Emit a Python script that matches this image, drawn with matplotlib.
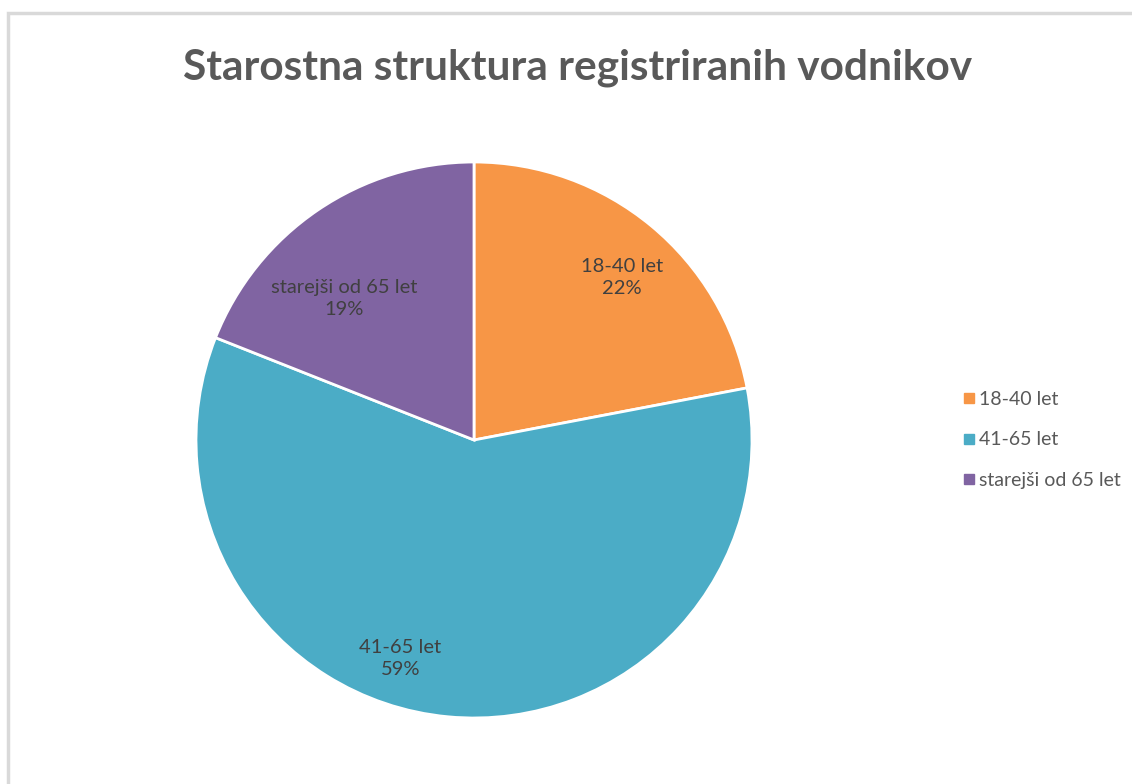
import matplotlib
matplotlib.use("Agg")
import numpy as np
import matplotlib.pyplot as plt
from matplotlib.patches import Rectangle
from matplotlib.lines import Line2D

# data
categories = ["18-40 let", "41-65 let", "starejši od 65 let"]
shares = [22, 59, 19]
colors = ["#F79646", "#4BACC6", "#8064A2"]
title = "Starostna struktura registriranih vodnikov"

# label placement (angle in deg, radius fraction) -- as in the original
label_pos = [(47.6, 0.79), (251.4, 0.83), (132.6, 0.69)]

plt.rcParams['font.family'] = ['Lato', 'DejaVu Sans']

W, H = 1132, 784
fig = plt.figure(figsize=(W / 100, H / 100), dpi=100)

# outer chart frame
fig.patches.append(Rectangle((8 / W, -0.05), 1.1, 1 - 13 / H + 0.05,
                             transform=fig.transFigure, fill=False,
                             edgecolor="#D9D9D9", linewidth=2.5))

cx, cy, r = 474, 440, 278
ax = fig.add_axes([(cx - r) / W, (H - cy - r) / H, 2 * r / W, 2 * r / H])
wedges, _ = ax.pie(shares, colors=colors, startangle=90, counterclock=False,
                   wedgeprops=dict(edgecolor="white", linewidth=2))
ax.set_xlim(-1, 1)
ax.set_ylim(-1, 1)
ax.set_aspect("equal")
ax.axis("off")

for name, val, (ang, rr) in zip(categories, shares, label_pos):
    a = np.radians(ang)
    ax.text(rr * np.cos(a), rr * np.sin(a), f"{name}\n{val}%",
            ha="center", va="center", fontsize=14.5, color="#404040",
            linespacing=1.35)

fig.text(578 / W, 1 - 68 / H, title, ha="center", va="center",
         fontsize=30.5, fontweight="bold", color="#595959")

handles = [Line2D([], [], marker="s", linestyle="none", markersize=6.5,
                  markerfacecolor=c, markeredgecolor=c) for c in colors]
fig.legend(handles, categories, loc="center left",
           bbox_to_anchor=(945 / W, 1 - 440 / H), frameon=False,
           fontsize=14, labelcolor="#595959", handletextpad=0.15,
           handlelength=0.7, labelspacing=1.2)

fig.savefig("out.png", dpi=100)
